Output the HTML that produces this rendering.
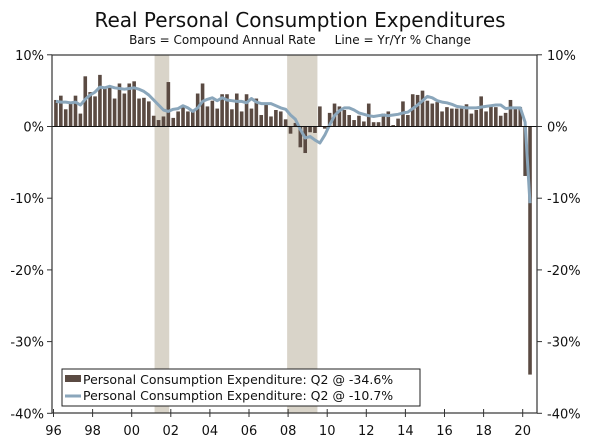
<!DOCTYPE html>
<html><head><meta charset="utf-8"><style>
html,body{margin:0;padding:0;background:#fff;}
svg{display:block;font-family:"DejaVu Sans","Liberation Sans",sans-serif;}
</style></head><body>
<svg id="chart" width="600" height="443" viewBox="0 0 600 443">
<text x="300" y="27" text-anchor="middle" font-size="20" fill="#111">Real Personal Consumption Expenditures</text>
<text x="300" y="44" text-anchor="middle" font-size="12" fill="#111">Bars = Compound Annual Rate &#160;&#160;&#160; Line = Yr/Yr % Change</text>
<g id="rec"></g><g id="bars"></g><g id="line"></g><g id="axes"></g>
<g>
<rect x="62" y="369" width="358" height="37" fill="#fff" stroke="#222" stroke-width="1"/>
<rect x="65" y="375" width="16" height="7" fill="#5a4a42"/>
<text x="83" y="384" font-size="12.5" fill="#111">Personal Consumption Expenditure: Q2 @ -34.6%</text>
<line x1="65" y1="396" x2="81" y2="396" stroke="#8aa6bb" stroke-width="3"/>
<text x="83" y="400" font-size="12.5" fill="#111">Personal Consumption Expenditure: Q2 @ -10.7%</text>
</g>
</svg>
<script>
const barValues = [3.7,4.3,2.4,3.2, 4.3,1.8,7.0,4.8, 4.2,7.2,5.3,5.6, 3.9,6.0,4.6,6.0, 6.3,3.9,4.0,3.5,
 1.5,0.9,1.4,6.2, 1.2,2.1,2.8,2.1, 2.3,4.6,6.0,2.8, 3.6,2.5,4.5,4.5, 2.4,4.6,2.1,4.5, 2.5,3.9,1.6,3.2,
 1.4,2.3,2.1,1.0, -1.0,0.5,-2.9,-3.7, -0.8,-0.9,2.8,-0.3,
 1.9,3.2,2.8,2.3, 1.6,0.9,1.5,0.7, 3.2,0.6,0.6,1.8, 2.1,0.2,1.1,3.5, 1.6,4.5,4.4,5.0,
 3.6,3.2,3.4,2.1, 2.7,2.5,2.5,2.5, 3.1,1.8,2.3,4.2, 2.1,3.0,2.7,1.5, 1.9,3.7,2.5,2.7, -6.9,-34.6];
const lineValues = [3.5,3.4,3.4,3.3, 3.4,3.0,3.8,4.4, 4.8,5.5,5.4,5.6, 5.4,5.3,5.2,5.3, 5.4,5.2,4.9,4.4,
 3.7,3.0,2.3,2.1, 2.4,2.5,2.9,2.6, 2.1,2.6,3.5,3.8, 4.0,3.6,4.0,3.7, 3.6,3.5,3.5,3.3, 3.9,3.4,3.2,3.2,
 3.2,2.9,2.6,2.4, 1.6,1.0,-0.4,-1.6, -1.4,-1.9,-2.3,-1.2, 0.2,1.5,2.2,2.6, 2.6,2.3,1.9,1.7,
 1.5,1.4,1.5,1.6, 1.5,1.6,1.7,1.9, 2.0,2.5,3.0,3.6, 4.2,4.0,3.6,3.4, 3.3,3.1,2.8,2.7,
 2.6,2.6,2.6,2.7, 2.8,2.9,3.0,3.0, 2.5,2.6,2.6,2.6, 0.6,-10.7];
const startYear = 1996;
const yTicks = [10,0,-10,-20,-30,-40];
const xTickYears = [1996,1998,2000,2002,2004,2006,2008,2010,2012,2014,2016,2018,2020];
const xTickLabels = ["96","98","00","02","04","06","08","10","12","14","16","18","20"];
const recessions = [[2001.17,2001.92],[2007.95,2009.5]];

const NS="http://www.w3.org/2000/svg";
const L=52,R=537,T=55,B=413;
const xs=t=>53.5+19.55*(t-1996);
const ys=v=>126.5-v*7.17;
function mk(tag,attrs,parent){const e=document.createElementNS(NS,tag);for(const k in attrs)e.setAttribute(k,attrs[k]);parent.appendChild(e);return e;}
const gR=document.getElementById('rec'),gB=document.getElementById('bars'),gL=document.getElementById('line'),gA=document.getElementById('axes');
recessions.forEach(r=>{const e=mk('rect',{x:xs(r[0]),y:T,width:xs(r[1])-xs(r[0]),height:B-T,fill:'#d9d4c9'},gR);

});
barValues.forEach((v,i)=>{const cx=xs(startYear+i/4+0.125);const y0=ys(0),y1=ys(v);
const e=mk('rect',{x:cx-1.8,y:Math.min(y0,y1),width:3.6,height:Math.abs(y1-y0),fill:'#5a4a42'},gB);

});
const pts=lineValues.map((v,i)=>xs(startYear+i/4+0.125).toFixed(1)+','+ys(v).toFixed(1)).join(' ');
const pl=mk('polyline',{points:pts,fill:'none',stroke:'#8aa6bb','stroke-width':3,'stroke-linejoin':'round'},gL);


const z=mk('line',{x1:L,x2:R,y1:ys(0),y2:ys(0),stroke:'#111','stroke-width':1},gA);


const fr=mk('rect',{x:L,y:T,width:R-L,height:B-T,fill:'none',stroke:'#333','stroke-width':1.2},gA);


yTicks.forEach(v=>{const y=ys(v);
mk('line',{x1:L-5,x2:L,y1:y,y2:y,stroke:'#333'},gA);mk('line',{x1:R,x2:R+5,y1:y,y2:y,stroke:'#333'},gA);
const a=mk('text',{x:L-8,y:y+5,'text-anchor':'end','font-size':13,fill:'#111'},gA);a.textContent=v+'%';


const b=mk('text',{x:R+10,y:y+5,'font-size':13,fill:'#111'},gA);b.textContent=v+'%';

});
xTickYears.forEach((yr,i)=>{const x=xs(yr);
mk('line',{x1:x,x2:x,y1:B-4,y2:B+4,stroke:'#333'},gA);
const t=mk('text',{x:x,y:B+22,'text-anchor':'middle','font-size':13,fill:'#111'},gA);t.textContent=xTickLabels[i];

});
</script>
</body></html>
